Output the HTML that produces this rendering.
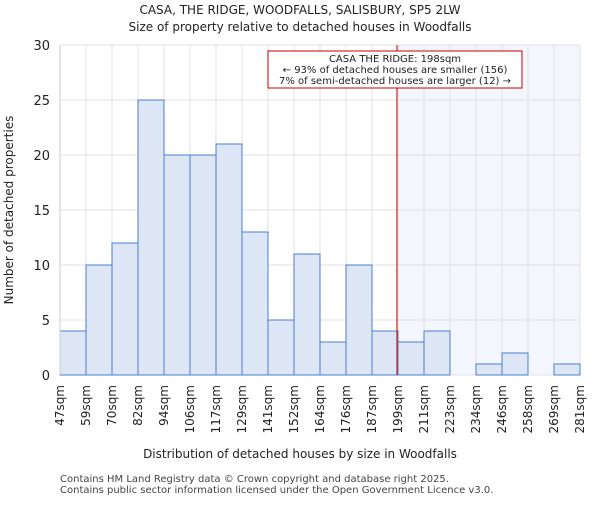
<!DOCTYPE html>
<html><head><meta charset="utf-8"><style>body{margin:0;background:#fff}svg{font-family:"DejaVu Sans","Liberation Sans",sans-serif}</style></head>
<body>
<svg id="c" width="600" height="500"></svg>
<script>
const categories=["47sqm","59sqm","70sqm","82sqm","94sqm","106sqm","117sqm","129sqm","141sqm","152sqm","164sqm","176sqm","187sqm","199sqm","211sqm","223sqm","234sqm","246sqm","258sqm","269sqm","281sqm"];
const counts=[4,10,12,25,20,20,21,13,5,11,3,10,4,3,4,0,1,2,0,1];
const yTicks=[0,5,10,15,20,25,30];
const markerIndex=12.96;
const ns="http://www.w3.org/2000/svg",svg=document.getElementById('c');
const L=60,R=580,T=45,B=375,n=counts.length,bw=(R-L)/n;
const x=i=>L+i*bw, y=v=>B-(v/30)*(B-T);
function el(t,a,p){const e=document.createElementNS(ns,t);for(const k in a)e.setAttribute(k,a[k]);(p||svg).appendChild(e);return e;}
let r=el('rect',{x:x(markerIndex),y:T,width:R-x(markerIndex),height:B-T,fill:'#f3f6fd'});

for(let i=0;i<=n;i++){let g=el('line',{x1:x(i),x2:x(i),y1:T,y2:B,stroke:'#e0e0e0'});}
yTicks.forEach(v=>{let g=el('line',{x1:L,x2:R,y1:y(v),y2:y(v),stroke:'#e0e0e0'});
let t=el('text',{x:L-10,y:y(v)+5,'text-anchor':'end','font-size':13,fill:'#222'});t.textContent=v;});
counts.forEach((v,i)=>{if(v<=0)return;let b=el('rect',{x:x(i),y:y(v),width:bw,height:B-y(v),fill:'#dce6f5',stroke:'#4a7fd0','stroke-width':1});});
categories.forEach((c,i)=>{let t=el('text',{transform:`translate(${x(i)+4},${B+10}) rotate(-90)`,'text-anchor':'end','font-size':12,fill:'#222'});t.textContent=c;});
let ax=el('line',{x1:L,x2:L,y1:T,y2:B,stroke:'#ccc'});
let m=el('line',{x1:x(markerIndex),x2:x(markerIndex),y1:T,y2:B,stroke:'#cc0000','stroke-width':1});
</script>
<svg width="600" height="500" style="position:absolute;left:0;top:0">
<g font-family="DejaVu Sans, sans-serif" fill="#222">
<text x="300" y="14" text-anchor="middle" font-size="12">CASA, THE RIDGE, WOODFALLS, SALISBURY, SP5 2LW</text>
<text x="300" y="31" text-anchor="middle" font-size="12">Size of property relative to detached houses in Woodfalls</text>
<rect x="268" y="51" width="254" height="37" fill="#fff" stroke="#cc0000"/>
<text x="395" y="62" text-anchor="middle" font-size="10">CASA THE RIDGE: 198sqm</text>
<text x="395" y="73" text-anchor="middle" font-size="10">← 93% of detached houses are smaller (156)</text>
<text x="395" y="84" text-anchor="middle" font-size="10">7% of semi-detached houses are larger (12) →</text>
<text x="300" y="458" text-anchor="middle" font-size="12">Distribution of detached houses by size in Woodfalls</text>
<text transform="translate(13,210) rotate(-90)" text-anchor="middle" font-size="12">Number of detached properties</text>
<text x="60" y="482" font-size="10" fill="#444">Contains HM Land Registry data © Crown copyright and database right 2025.</text>
<text x="60" y="493" font-size="10" fill="#444">Contains public sector information licensed under the Open Government Licence v3.0.</text>
</g></svg>
</body></html>
